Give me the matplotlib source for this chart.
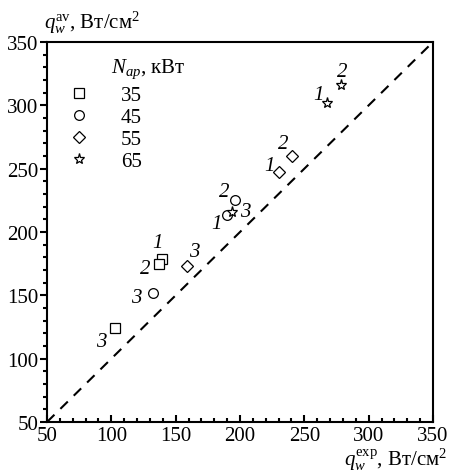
import matplotlib.pyplot as plt
from matplotlib.ticker import MultipleLocator

plt.rcParams['font.family'] = ['Liberation Serif', 'DejaVu Serif']
plt.rcParams['mathtext.fontset'] = 'custom'
plt.rcParams['mathtext.rm'] = 'Liberation Serif'
plt.rcParams['mathtext.it'] = 'Liberation Serif:italic'

# N_ap, kW groups; points are (q_exp, q_av) with number labels
powers = ['35', '45', '55', '65']
markers = ['s', 'o', 'D', '*']
sizes = [7, 7, 6, 8]

q_exp = {
    '35': [139.0, 137.0, 102.8],
    '45': [190.1, 196.1, 132.6],
    '55': [230.3, 240.2, 159.0],
    '65': [267.8, 278.2, 193.5],
}
q_av = {
    '35': [178.7, 174.7, 124.2],
    '45': [213.4, 225.5, 151.6],
    '55': [247.1, 260.2, 173.4],
    '65': [301.8, 316.0, 216.0],
}
nums = ['1', '2', '3']

# label offsets in points (per group, per number)
offsets = {
    '35': [(-3, 12), (-10, -3), (-10, -10)],
    '45': [(-8, -6), (-8, 6), (-12, -3)],
    '55': [(-7, 5), (-6, 9), (5, 10)],
    '65': [(-6, 6), (1, 10), (10, 0)],
}

FS = 15

fig = plt.figure(figsize=(4.49, 4.77), dpi=100)
ax = fig.add_axes([0.1047, 0.1132, 0.8597, 0.7967])

ax.plot([50, 350], [50, 350], 'k', ls=(0, (5, 4)), lw=1.5, zorder=1)

for p, mk, ms in zip(powers, markers, sizes):
    ax.plot(q_exp[p], q_av[p], ls='none', marker=mk, ms=ms, mfc='white',
            mec='black', mew=0.9, label=p, zorder=3)
    for x, y, n, off in zip(q_exp[p], q_av[p], nums, offsets[p]):
        ax.annotate(n, (x, y), xytext=off, textcoords='offset points',
                    ha='center', va='center', fontsize=FS, style='italic')

ax.set_xlim(50, 350)
ax.set_ylim(50, 350)
ax.xaxis.set_major_locator(MultipleLocator(50))
ax.xaxis.set_minor_locator(MultipleLocator(10))
ax.yaxis.set_major_locator(MultipleLocator(50))
ax.yaxis.set_minor_locator(MultipleLocator(10))
ax.tick_params(axis='x', which='both', direction='in', labelsize=FS, width=1.5, pad=3)
ax.tick_params(axis='y', which='both', direction='out', labelsize=FS, width=1.5, pad=1)
ax.tick_params(which='major', length=5)
ax.tick_params(which='minor', length=3)
for s in ax.spines.values():
    s.set_linewidth(1.5)

leg = ax.legend(loc='upper left', bbox_to_anchor=(0.03, 0.913), frameon=False,
                fontsize=FS, handletextpad=1.5, labelspacing=0.12,
                handlelength=1.0, borderpad=0)
ax.text(0.165, 0.9, r'$N_{ap}$, кВт', transform=ax.transAxes, fontsize=FS,
        va='bottom')

fig.text(0.098, 0.925, r'$q_w^{\rm av}$, Вт/см$^2$', fontsize=FS, va='bottom')
fig.text(0.997, 0.008, r'$q_w^{\rm exp}$, Вт/см$^2$', fontsize=FS, ha='right',
         va='bottom')

fig.savefig('out.png', dpi=100)
